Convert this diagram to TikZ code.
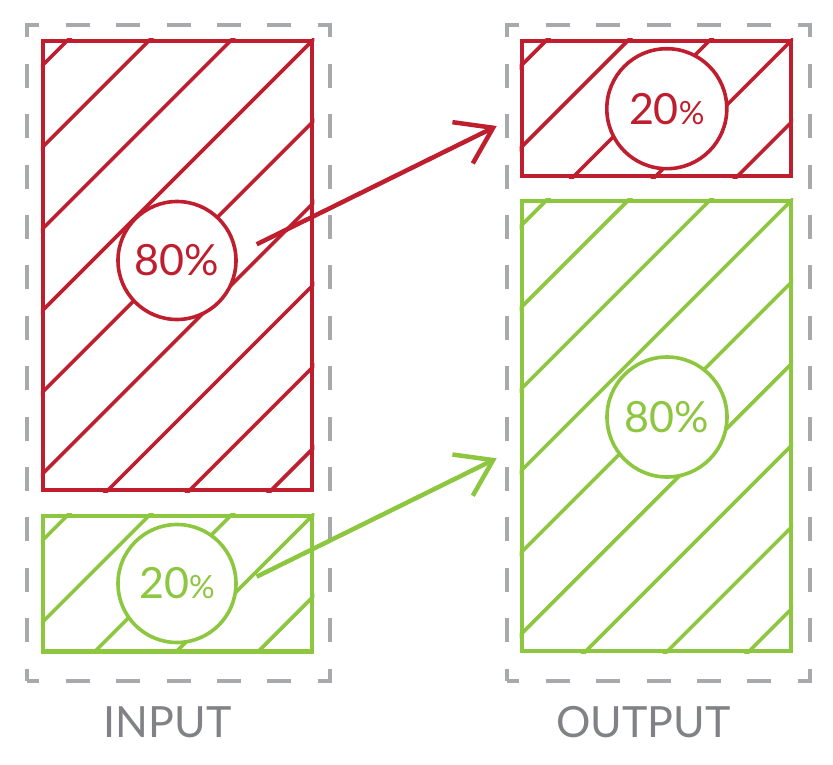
\documentclass[tikz,border=0pt]{standalone}
\usepackage{fontspec}
\setmainfont{Lato}
\usetikzlibrary{arrows.meta}
\definecolor{mixred}{HTML}{BE1E2D}
\definecolor{mixgreen}{HTML}{8DC63F}
\definecolor{framegray}{HTML}{A7A9AC}
\definecolor{labelgray}{HTML}{808285}
\newcommand{\pcfont}{\fontsize{43}{50}\selectfont}
\newcommand{\smallpc}{{\fontsize{32}{36}\selectfont\%}}

\begin{document}
\begin{tikzpicture}[x=1pt,y=-1pt,>={Straight Barb[length=34pt,width=46pt,sharp]}]
 \tikzstyle{frame}=[rectangle,draw=framegray,line width=4pt,dash pattern=on 24pt off 26.4pt,dash phase=12pt,minimum width=302.4pt,minimum height=655.2pt,inner sep=0pt]
 \tikzstyle{redbox}=[rectangle,draw=mixred,line width=4.5pt,minimum width=269pt,inner sep=0pt]
 \tikzstyle{greenbox}=[rectangle,draw=mixgreen,line width=4.5pt,minimum width=269pt,inner sep=0pt]
 \tikzstyle{hatch}=[line width=3.6pt]
 \tikzstyle{redcirc}=[circle,draw=mixred,line width=3.6pt,fill=white,text=mixred,inner sep=0pt,font=\pcfont]
 \tikzstyle{greencirc}=[circle,draw=mixgreen,line width=3.6pt,fill=white,text=mixgreen,inner sep=0pt,font=\pcfont]
 \tikzstyle{lbl}=[text=labelgray,font=\pcfont,inner sep=0pt]
 \useasboundingbox (0,0) rectangle (833,765);
 % dashed frames
 \node[frame] (inframe) at (178.5,353) {};
 \node[frame] (outframe) at (658.5,353) {};
 % boxes
 \node[redbox,minimum height=449pt] (inred) at (177.5,265.5) {};
 \node[greenbox,minimum height=135.5pt] (ingreen) at (177.5,583.75) {};
 \node[redbox,minimum height=135pt] (outred) at (656.35,108.5) {};
 \node[greenbox,minimum height=450pt] (outgreen) at (656.35,426) {};
 % hatching
 \foreach \bx/\col in {inred/mixred,ingreen/mixgreen,outred/mixred,outgreen/mixgreen}{
  \begin{scope}
   \clip (\bx.south west) rectangle (\bx.north east);
   \foreach \j in {-4,...,6}
    \draw[hatch,\col] ([xshift=\j*81.7pt]\bx.north east) ++(-700,700) -- ++(1400,-1400);
  \end{scope}
 }
 % shares
 \node[redcirc,minimum size=118pt] (inredpc) at (177,260.5) {80\%};
 \node[greencirc,minimum size=118pt] (ingreenpc) at (177,583.5) {20\smallpc};
 \node[redcirc,minimum size=120pt] (outredpc) at (666.8,108.7) {20\smallpc};
 \node[greencirc,minimum size=120pt] (outgreenpc) at (667,417) {80\%};
 % arrows
 \coordinate (redfrom) at (256.7,244.3);
 \coordinate (redto) at (496.7,126);
 \coordinate (greenfrom) at (256.7,576.7);
 \coordinate (greento) at (496.7,458.3);
 \draw[->,mixred,line width=4.5pt] (redfrom) -- (redto);
 \draw[->,mixgreen,line width=4.5pt] (greenfrom) -- (greento);
 % labels
 \node[lbl,anchor=base] (inlabel) at (167.5,737) {INPUT};
 \node[lbl,anchor=base] (outlabel) at (643.5,737) {OUTPUT};
\end{tikzpicture}
\end{document}
